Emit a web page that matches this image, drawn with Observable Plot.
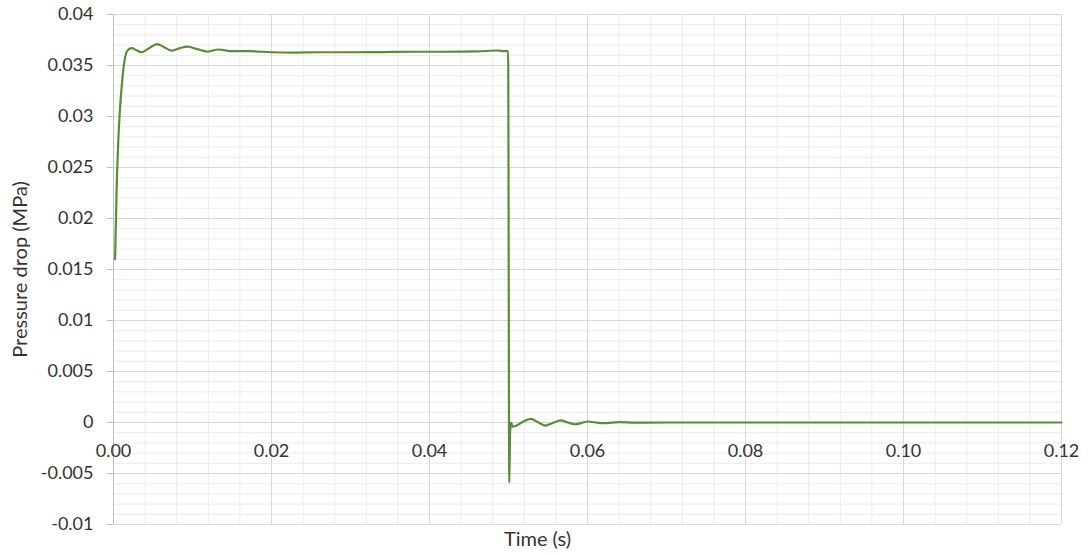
<!DOCTYPE html>
<html>
<head>
<meta charset="utf-8">
<script src="https://cdn.jsdelivr.net/npm/d3@7"></script>
<script src="https://cdn.jsdelivr.net/npm/@observablehq/plot@0.6"></script>
<style>
  html, body { margin: 0; padding: 0; background: #fff; }
  svg { display: block; }
</style>
</head>
<body>
<div id="chart"></div>
<script>
// Time (s)
const time = [
  0.0002, 0.0004, 0.0006, 0.0008, 0.0011, 0.0014, 0.0018, 0.0023, 0.0029, 0.0035,
  0.0045, 0.0055, 0.0064, 0.0074, 0.0084, 0.0094, 0.0106, 0.0119, 0.0133, 0.0150,
  0.0173, 0.0200, 0.0228, 0.0260, 0.0300, 0.0340, 0.0380, 0.0420, 0.0460, 0.0486,
  0.0495, 0.04995, 0.0501, 0.0502, 0.05035, 0.0505, 0.0510, 0.0519, 0.0528, 0.0538,
  0.0547, 0.0556, 0.0566, 0.0575, 0.0585, 0.0593, 0.0601, 0.0610, 0.0620, 0.0640,
  0.0660, 0.0700, 0.0800, 0.1000, 0.1200
];
// Pressure drop (MPa)
const pressure = [
  0.0160, 0.0230, 0.0275, 0.0305, 0.0335, 0.0355, 0.0365, 0.0367, 0.0365, 0.0363,
  0.0367, 0.0371, 0.0368, 0.03645, 0.0367, 0.03685, 0.0366, 0.03637, 0.03657, 0.0364,
  0.0364, 0.0363, 0.03627, 0.0363, 0.0363, 0.03632, 0.03635, 0.03635, 0.03638, 0.03647,
  0.0364, 0.0364, -0.0059, -0.0010, 0.0000, -0.0004, -0.0003, 0.0001, 0.00036, 0.0000,
  -0.0003, -0.00005, 0.0002, 0.0000, -0.00017, -0.00003, 0.0001, 0.0000, -0.00007, 0.00003,
  -0.00002, 0.0000, 0.0000, 0.0000, 0.0000
];

const xTicks = [0, 0.02, 0.04, 0.06, 0.08, 0.10, 0.12];
const xTickLabels = ["0.00", "0.02", "0.04", "0.06", "0.08", "0.10", "0.12"];
const yTicks = [0.04, 0.035, 0.03, 0.025, 0.02, 0.015, 0.01, 0.005, 0, -0.005, -0.01];
const yTickLabels = ["0.04", "0.035", "0.03", "0.025", "0.02", "0.015", "0.01", "0.005", "0", "-0.005", "-0.01"];
const xMinor = d3.range(0, 0.1201, 0.004).map(v => +v.toFixed(3));
const yMinor = d3.range(-0.01, 0.0401, 0.001).map(v => +v.toFixed(3));

const data = time.map((t, i) => ({t, p: pressure[i]}));
const xLabelData = xTicks.map((v, i) => ({v, label: xTickLabels[i]}));

const font = "Lato, 'Open Sans', sans-serif";
const textColor = "#333";

const chart = Plot.plot({
  width: 1088,
  height: 555,
  marginLeft: 113,
  marginRight: 27,
  marginTop: 14,
  marginBottom: 31,
  style: {fontFamily: font, fontSize: "18px", color: textColor, background: "#fff"},
  x: {domain: [0, 0.12], axis: null},
  y: {domain: [-0.01, 0.04], axis: null},
  marks: [
    Plot.gridX(xMinor, {stroke: "#ececec", strokeOpacity: 1, strokeWidth: 1}),
    Plot.gridY(yMinor, {stroke: "#ececec", strokeOpacity: 1, strokeWidth: 1}),
    Plot.gridX(xTicks, {stroke: "#d9d9d9", strokeOpacity: 1, strokeWidth: 1}),
    Plot.gridY(yTicks, {stroke: "#d9d9d9", strokeOpacity: 1, strokeWidth: 1}),
    Plot.ruleX([0], {stroke: "#bfbfbf", strokeWidth: 1}),
    Plot.axisY({
      ticks: yTicks,
      tickSize: 6,
      tickPadding: 14,
      stroke: "#bfbfbf",
      tickFormat: (d) => yTickLabels[yTicks.indexOf(d)],
      fontSize: 18,
      fill: textColor,
      label: null
    }),
    Plot.text(xLabelData, {
      x: "v", y: () => 0, text: "label",
      dy: 29, fontSize: 18, fill: textColor
    }),
    Plot.line(data, {
      x: "t", y: "p",
      stroke: "#5b8c3b",
      strokeWidth: 2.2,
      curve: "monotone-x"
    }),
    Plot.text(["Pressure drop (MPa)"], {
      frameAnchor: "left", textAnchor: "middle", rotate: -90, dx: -93,
      fontSize: 20, fill: textColor
    }),
    Plot.text(["Time (s)"], {
      frameAnchor: "bottom", textAnchor: "middle", dy: 21, dx: -50,
      fontSize: 20, fill: textColor
    })
  ]
});

document.getElementById("chart").appendChild(chart);
</script>
</body>
</html>
